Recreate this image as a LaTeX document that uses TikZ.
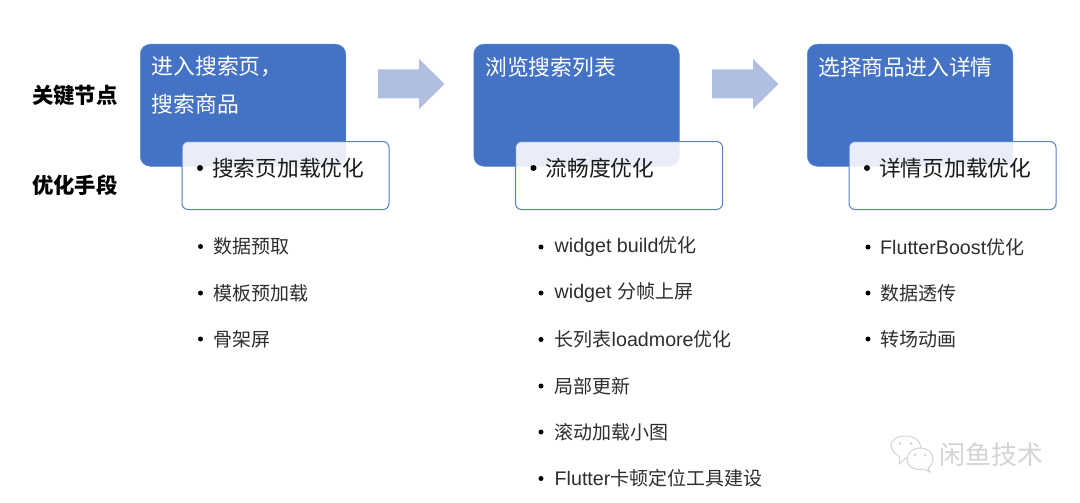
\documentclass[tikz,border=0pt]{standalone}
\usepackage{fontspec}
\setmainfont{Noto Sans CJK SC}
\newfontfamily\latinpart[Scale=1.035]{Liberation Sans}
\newcommand{\lat}[1]{{\latinpart #1}}
\usetikzlibrary{calc}
\definecolor{mainblue}{HTML}{4472C4}
\definecolor{arrowblue}{HTML}{B0BEE0}
\definecolor{ink}{HTML}{1A1A1A}
\definecolor{subink}{HTML}{2E2E2E}
\definecolor{wm}{HTML}{D4D4D4}
\tikzset{
  x=1pt,y=-1pt,
  stagebox/.style={draw=mainblue!85!white,line width=.5pt,fill=mainblue,rounded corners=10pt,minimum width=205.5pt,minimum height=122pt,anchor=north west,inner sep=0pt},
  stagetext/.style={anchor=west,text=white,font=\fontsize{21.8}{22}\selectfont,inner sep=0pt},
  methodbox/.style={draw=mainblue!90!white,line width=1pt,fill=white,fill opacity=.88,rounded corners=6pt,minimum width=207pt,minimum height=68pt,anchor=north west,inner sep=0pt},
  methodtext/.style={anchor=west,text=ink,font=\fontsize{21.7}{22}\selectfont,inner sep=0pt},
  rowlabel/.style={anchor=west,text=black,font=\fontsize{21.4}{22}\selectfont\bfseries,inner sep=0pt},
  subtext/.style={anchor=west,text=subink,font=\fontsize{19}{20}\selectfont,inner sep=0pt},
  bulletdot/.style={circle,fill=black,inner sep=0pt,minimum size=#1},
  flowarrow/.style={fill=arrowblue,draw=none},
  wmtext/.style={anchor=west,text=wm,font=\fontsize{26}{26}\selectfont,inner sep=0pt},
  wmline/.style={draw=wm,line width=1pt,fill=white},
}
\begin{document}
\begin{tikzpicture}
\useasboundingbox (0,0) rectangle (1080,503);
\fill[white] (0,0) rectangle (1080,503);

\node[rowlabel] (lblkey) at (32,95) {关键节点};
\node[rowlabel] (lblopt) at (32,185) {优化手段};

% stage boxes
\node[stagebox] (s1) at (140,44) {};
\node[stagebox] (s2) at (473.5,44) {};
\node[stagebox] (s3) at (807,44) {};
\node[stagetext] (s1a) at (151.5,67) {进入搜索页，};
\node[stagetext] (s1b) at (151.5,104.5) {搜索商品};
\node[stagetext] (s2a) at (485,67) {浏览搜索列表};
\node[stagetext] (s3a) at (818,67) {选择商品进入详情};

% arrows
\foreach \x/\n in {378/a1,712/a2}{
  \fill[flowarrow] (\x,69.5) -- ++(41,0) -- ++(0,-10.5) -- ++(25.5,25) -- ++(-25.5,25) -- ++(0,-10.5) -- ++(-41,0) -- cycle;
}

% method boxes
\node[methodbox] (m1) at (181.5,141) {};
\node[methodbox] (m2) at (515,141) {};
\node[methodbox] (m3) at (848.5,141) {};
\node[bulletdot=6pt] (b1) at (200,168) {};
\node[bulletdot=6pt] (b2) at (533.5,168) {};
\node[bulletdot=6pt] (b3) at (867,168) {};
\node[methodtext] (m1t) at (212,168) {搜索页加载优化};
\node[methodtext] (m2t) at (545.5,168) {流畅度优化};
\node[methodtext] (m3t) at (879,168) {详情页加载优化};

% sub lists
\foreach \i/\y/\t in {a/246.5/数据预取,b/293/模板预加载,c/339/骨架屏}{
  \node[bulletdot=5pt] (d1\i) at (200.5,\y) {};
  \node[subtext] (t1\i) at (213.5,\y) {\t};
}
\foreach \i/\y/\t in {a/247/{\lat{widget build}优化},b/293/{\lat{widget }分帧上屏},c/339.5/{长列表\lat{loadmore}优化},d/386/局部更新,e/432/滚动加载小图,f/478.5/{\lat{Flutter}卡顿定位工具建设}}{
  \node[bulletdot=5pt] (d2\i) at (541,\y) {};
  \node[subtext] (t2\i) at (554.5,\y) {\t};
}
\foreach \i/\y/\t in {a/247/{\lat{FlutterBoost}优化},b/293/数据透传,c/339/转场动画}{
  \node[bulletdot=5pt] (d3\i) at (868,\y) {};
  \node[subtext] (t3\i) at (880,\y) {\t};
}

% watermark
\draw[wmline] (905,458.5) -- (899,464) -- (899.5,456.5) .. controls (893,453) and (891,448) .. (891,446) .. controls (891,440) and (897,436) .. (906,436) .. controls (914,436) and (920,440) .. (921,447) .. controls (921,453) and (915,458.5) .. (905,458.5) -- cycle;
\draw[wmline] (928,468) -- (930,472) -- (924,469) .. controls (914,471) and (907,466) .. (907,459) .. controls (907,452) and (914,448) .. (920,448) .. controls (928,448) and (933,453) .. (933,459) .. controls (933,463) and (931,466) .. (928,468) -- cycle;
\foreach \p in {(900,443.5),(911,443.5),(915,455),(925,455)}{\fill[wm] \p circle[radius=1.5];}
\node[wmtext] (wmname) at (939,455) {闲鱼技术};
\end{tikzpicture}
\end{document}
